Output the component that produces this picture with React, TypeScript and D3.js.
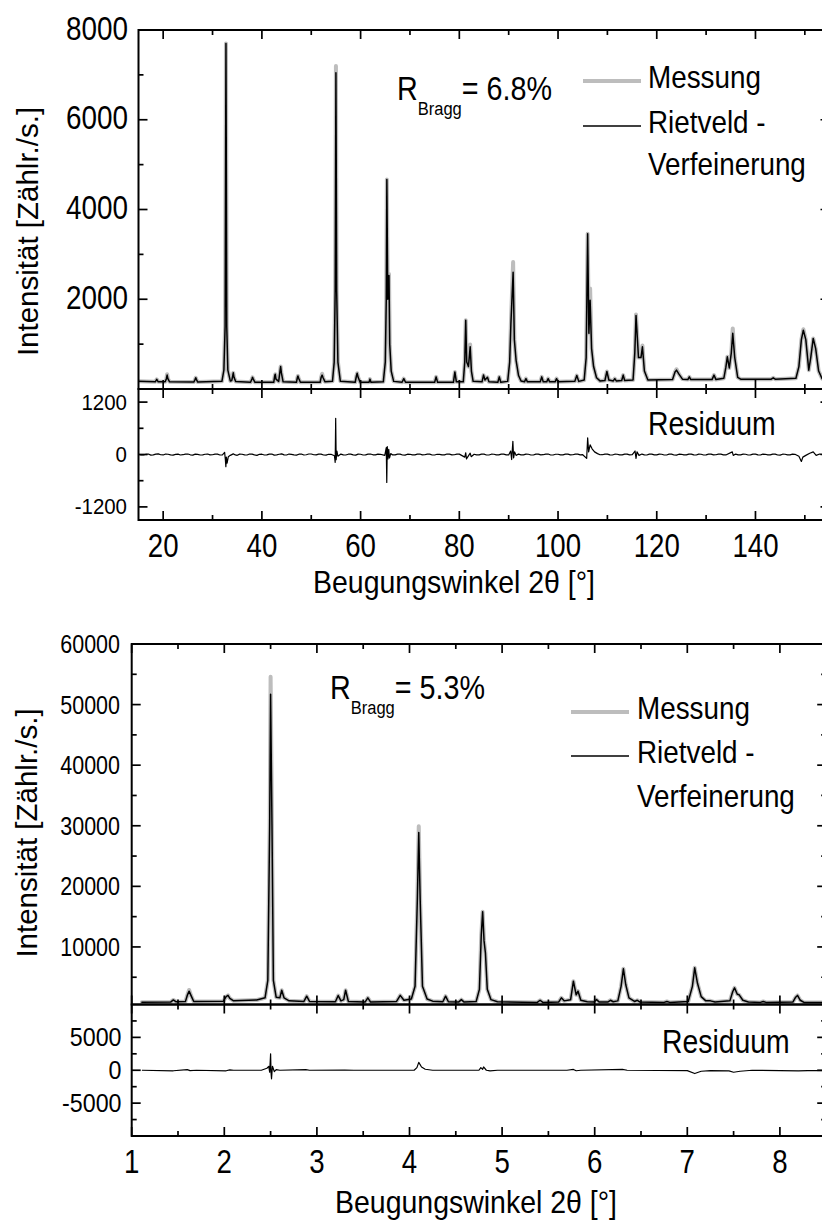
import React from 'react';
import * as d3 from 'd3';

const W = 822;
const H = 1222;
const FONT = '"Liberation Sans", Arial, Helvetica, sans-serif';
const OBS_GREY = '#bdbdbd';

// ---------- upper pattern: 2θ [°], intensity [counts/s] ----------
const topCalc: [number, number][] = [
  [15, 170], [18.4, 160], [18.7, 215], [19.0, 160],
  [20.4, 160], [20.65, 230], [20.8, 310], [20.95, 230], [21.3, 160],
  [26.2, 155], [26.45, 210], [26.6, 250], [26.75, 210], [27.0, 155],
  [31.9, 170], [32.3, 420], [32.55, 1400], [32.72, 7700], [32.88, 1400], [33.1, 420], [33.6, 180],
  [33.9, 190], [34.1, 300], [34.2, 360], [34.35, 260], [34.7, 165],
  [37.7, 150], [38.0, 230], [38.1, 260], [38.25, 220], [38.6, 150],
  [42.4, 150], [42.6, 290], [42.7, 330], [42.85, 220], [43.4, 170], [43.65, 380], [43.8, 500], [43.95, 360], [44.3, 160],
  [47.0, 150], [47.2, 260], [47.3, 290], [47.45, 240], [47.8, 150],
  [51.8, 150], [52.0, 260], [52.2, 310], [52.4, 250], [52.8, 160],
  [54.3, 170], [54.65, 600], [54.85, 2200], [55.0, 7050], [55.15, 2200], [55.4, 600], [55.9, 170],
  [58.9, 150], [59.15, 290], [59.3, 350], [59.5, 260], [59.9, 150],
  [61.7, 150], [61.9, 220], [62.1, 150],
  [64.6, 160], [65.0, 600], [65.2, 2000], [65.32, 4670], [65.5, 2000], [65.62, 2100], [65.75, 2530], [65.9, 1000], [66.2, 400], [66.7, 170],
  [68.4, 150], [68.75, 230], [69.1, 150],
  [75.0, 150], [75.3, 270], [75.6, 150],
  [78.8, 150], [79.1, 380], [79.4, 160],
  [80.8, 160], [81.1, 600], [81.3, 1530], [81.5, 600], [81.85, 500], [82.2, 940], [82.45, 400], [82.8, 170],
  [84.6, 160], [84.9, 310], [85.2, 200], [85.7, 260], [86.0, 160],
  [87.8, 150], [88.1, 270], [88.4, 150],
  [89.8, 170], [90.2, 600], [90.45, 1460], [90.9, 2600], [91.15, 1100], [91.5, 640], [92.0, 300], [92.5, 180],
  [93.2, 160], [93.5, 230], [93.8, 160],
  [96.4, 160], [96.7, 270], [97.0, 160], [97.7, 160], [98.0, 230], [98.3, 160], [99.4, 160], [99.7, 230], [100.0, 160],
  [103.4, 170], [103.8, 300], [104.2, 170],
  [105.3, 200], [105.7, 700], [106.0, 3460], [106.25, 1240], [106.5, 1980], [106.8, 900], [107.2, 500], [107.8, 250], [108.5, 180],
  [109.5, 190], [109.9, 390], [110.3, 200], [111.2, 180], [111.5, 230], [111.8, 180], [112.9, 190], [113.2, 310], [113.5, 190],
  [115.2, 200], [115.55, 800], [115.8, 1640], [116.3, 700], [116.8, 700], [117.1, 940], [117.5, 400], [118.2, 200],
  [123.2, 210], [123.7, 380], [124.0, 420], [124.5, 330], [125.2, 220], [126.3, 210], [126.6, 270], [126.9, 210],
  [131.2, 210], [131.6, 310], [132.0, 210],
  [133.6, 240], [134.0, 480], [134.3, 718], [134.7, 470], [135.1, 800], [135.4, 1240], [135.8, 700], [136.4, 260], [137.0, 220],
  [143.2, 220], [143.6, 250], [144.0, 220],
  [148.2, 240], [148.8, 500], [149.3, 1100], [149.7, 1310], [150.2, 1100], [150.8, 420], [151.2, 700], [151.7, 1126], [152.2, 900], [152.8, 400], [153.5, 230], [155, 210],
];

// measured maxima that stand above the refined profile
const topObsPeaks: [number, number][] = [
  [20.8, 330], [52.2, 340], [55.0, 7200], [65.75, 2560], [82.2, 990], [90.9, 2830],
  [106.5, 2240], [115.8, 1660], [117.1, 970], [124.0, 440], [135.4, 1350], [149.7, 1330],
];

// difference curve (measured − refined)
const topDiff: [number, number][] = [
  [15, 5], [15.5, -8], [16, -12], [16.5, 6], [17, 10], [17.5, -14], [18, -8], [18.5, 9], [19, 14], [19.5, -6],
  [20, -10], [20.5, 12], [21, 6], [21.5, -9], [22, -15], [22.5, 4], [23, 8], [23.5, -11], [24, -5], [24.5, 10],
  [25, 12], [25.5, -7], [26, -14], [26.5, 9], [27, 4], [27.5, -12], [28, -9], [28.5, 6], [29, 11], [29.5, -10],
  [30, -6], [30.5, 9], [31, 8], [31.5, -12], [32.0, -10], [32.45, 50],
  [32.6, -120], [32.7, -280], [32.8, -60], [32.95, -200], [33.2, -50], [33.6, -20], [34.2, 15], [34.6, -10],
  [35, -18], [35.5, 8], [36, 6], [36.5, -10], [37, -12], [37.5, 12], [38, 9], [38.5, -8], [39, -20], [39.5, 5],
  [40, 7], [40.5, -12], [41, -10], [41.5, 9], [42, 12], [42.5, -14], [43, -8], [43.5, 6], [44, 15], [44.5, -9],
  [45, -12], [45.5, 10], [46, 4], [46.5, -8], [47, -15], [47.5, 7], [48, 10], [48.5, -12], [49, -6], [49.5, 11],
  [50, 12], [50.5, -6], [51, -10], [51.5, 8], [52, 8], [52.5, -12], [53, -14], [53.5, 5], [54, 6],
  [54.7, -30], [54.85, -180], [54.95, 830], [55.05, -120], [55.2, 80], [55.4, -40], [56, 10], [56.5, -9], [57, -12],
  [57.5, 7], [58, 8], [58.5, -10], [59, -15], [59.5, 9], [60, 6], [60.5, -11], [61, -10], [61.5, 8], [62, 12],
  [62.5, -7], [63, -8], [63.5, 10], [64, 5], [64.9, -20], [65.2, 160],
  [65.3, -640], [65.4, 180], [65.55, -100], [65.7, 120], [65.85, -80], [66.1, 20], [66.5, -9], [67, -10], [67.5, 8],
  [68, 8], [68.5, -12], [69, -14], [69.5, 7], [70, 5], [70.5, -10], [71, -10], [71.5, 9], [72, 12], [72.5, -8],
  [73, -6], [73.5, 10], [74, 8], [74.5, -12], [75, -12], [75.5, 6], [76, 4], [76.5, -9], [77, -10], [77.5, 11],
  [78, 10], [78.5, -7], [79, -6], [79.5, 9], [80, 8], [81.1, -60], [81.3, 40], [81.45, -100], [82.2, 30],
  [82.4, -50], [83, 5], [83.5, -9], [84, -10], [84.5, 9], [85, 8], [85.5, -12], [86, -12], [86.5, 7], [87, 6],
  [87.5, -10], [88, -8], [88.5, 10], [89, 10], [89.5, -8], [90, -10], [90.4, 80], [90.6, -115], [90.85, 300],
  [91.0, -80], [91.2, 60], [91.5, -20], [92, 10], [92.5, -8], [93, -10], [93.5, 9], [94, 6], [94.5, -11],
  [95, -12], [95.5, 8], [96, 8], [96.5, -9], [97, -5], [97.5, 10], [98, 10], [98.5, -12], [99, -12], [99.5, 6],
  [100, 6], [100.5, -10], [101, -8], [101.5, 9], [102, 10], [102.5, -9], [103, -6], [103.5, 8], [104, 8],
  [104.5, -10], [105, -5], [105.8, -90],
  [106.0, 380], [106.2, 60], [106.5, 220], [106.9, 130], [107.4, 60], [108, 20], [108.5, -6], [109, -5],
  [109.5, 9], [110, 10], [110.5, -10], [111, -12], [111.5, 7], [112, 6], [112.5, -10], [113, -8], [113.5, 9],
  [114, 10], [114.5, -8], [115, -6], [115.6, 80], [115.8, -90], [116.0, 60],
  [116.4, -20], [117, 10], [117.5, -9], [118, -12], [118.5, 9], [119, 8], [119.5, -10], [120, -10], [120.5, 9],
  [121, 6], [121.5, -12], [122, -12], [122.5, 8], [123, 10], [123.5, -11], [124, -15], [124.5, 7],
  [125, 5], [125.5, -10], [126, -10], [126.5, 9], [127, 8], [127.5, -9], [128, -12], [128.5, 8], [129, 6],
  [129.5, -11], [130, -8], [130.5, 9], [131, 10], [131.5, -8], [132, -6], [132.5, 10], [133, 8], [133.5, -9],
  [134, -10], [135.3, 60], [135.5, -20], [136, 10], [136.5, -9], [137, -8], [137.5, 9], [138, 6], [138.5, -11],
  [139, -10], [139.5, 8], [140, 8], [140.5, -10], [141, -12], [141.5, 9], [142, 5], [142.5, -10], [143, -10],
  [143.5, 8], [144, 8], [144.5, -12], [145, -14], [145.5, 7], [146, 6], [146.5, -10], [147, -10], [147.5, 8],
  [148, 4], [148.8, -40], [149.3, -160],
  [149.6, -60], [150.2, -20], [151, 30], [151.7, 60], [152.3, -20], [153, 10], [154, -5], [155, 0],
];

// ---------- lower pattern ----------
const botCalc: [number, number][] = [
  [1.11, 880], [1.42, 900], [1.45, 1250], [1.48, 950], [1.58, 980], [1.6, 2000], [1.62, 2700], [1.64, 2000], [1.67, 1000],
  [1.99, 1050], [2.02, 1800], [2.04, 2000], [2.06, 1500], [2.1, 1100],
  [2.35, 1250], [2.44, 1600], [2.47, 4500], [2.49, 30000], [2.5, 51700], [2.515, 30000], [2.53, 4500], [2.56, 1700],
  [2.6, 1600], [2.62, 2850], [2.645, 1600], [2.7, 1100],
  [2.86, 1000], [2.89, 1870], [2.92, 1000],
  [3.2, 950], [3.23, 1980], [3.26, 1100], [3.29, 1300], [3.31, 2860], [3.34, 1000],
  [3.52, 900], [3.55, 1600], [3.58, 900],
  [3.86, 1000], [3.9, 2000], [3.94, 1200], [4.02, 1400], [4.06, 3500], [4.085, 18000], [4.1, 28900], [4.115, 18000],
  [4.14, 3500], [4.19, 1400], [4.25, 1050],
  [4.36, 950], [4.39, 1870], [4.42, 950], [4.53, 900], [4.56, 1300], [4.59, 900],
  [4.72, 1000], [4.755, 3000], [4.775, 12000], [4.79, 15800], [4.805, 11000], [4.82, 9000], [4.84, 3000], [4.88, 1300], [4.95, 950],
  [5.38, 850], [5.41, 1200], [5.44, 850], [5.61, 900], [5.64, 1600], [5.67, 1100], [5.74, 1300], [5.77, 4350],
  [5.8, 2100], [5.82, 2700], [5.85, 1200], [5.92, 950],
  [5.99, 900], [6.02, 1300], [6.05, 900], [6.14, 900], [6.17, 1200], [6.2, 950],
  [6.25, 1100], [6.285, 3500], [6.31, 6400], [6.335, 3800], [6.37, 1600], [6.43, 1000], [6.46, 1200], [6.49, 900],
  [6.75, 850], [6.78, 1000], [6.81, 850],
  [7.01, 1000], [7.055, 3500], [7.08, 6560], [7.11, 4000], [7.15, 1800], [7.2, 1100], [7.25, 1100], [7.3, 900],
  [7.46, 1100], [7.49, 2600], [7.51, 3250], [7.54, 2200], [7.56, 2100], [7.6, 1200], [7.66, 900],
  [7.79, 850], [7.82, 1000], [7.85, 850],
  [8.14, 900], [8.17, 1700], [8.19, 2000], [8.22, 1200], [8.26, 850], [8.5, 800],
];

const botObsPeaks: [number, number][] = [
  [1.62, 2900], [2.5, 54600], [4.1, 29900],
];

const botDiff: [number, number][] = [
  [1.11, 0], [1.45, -80], [1.6, 100], [1.63, -60], [1.7, 0], [2.02, -80], [2.06, 50], [2.1, 0], [2.4, 0],
  [2.46, 300], [2.48, 600], [2.49, -300], [2.5, 2500], [2.505, -400], [2.51, -1300], [2.52, 600],
  [2.54, -200], [2.56, 100], [2.6, 0], [2.88, 100], [2.92, 0], [3.3, 40], [3.4, 0], [4.05, 0],
  [4.08, 400], [4.1, 1200], [4.13, 500], [4.17, 150], [4.25, 0], [4.75, 0], [4.77, 400], [4.79, 150],
  [4.8, 500], [4.83, 0], [4.87, -100], [4.95, 0], [5.7, 0], [5.77, 120], [5.8, -80], [5.85, 0],
  [6.3, 120], [6.35, 0], [7.0, -50], [7.08, -500], [7.15, -150], [7.25, -50], [7.45, -100], [7.5, -300],
  [7.57, -150], [7.7, 0], [8.2, -80], [8.3, -50], [8.5, -50],
];

// ---------- axes ----------
const topXMajor = [20, 40, 60, 80, 100, 120, 140];
const topXMinor = [30, 50, 70, 90, 110, 130, 150];
const topYMajor = [2000, 4000, 6000, 8000];
const topYMinor = [1000, 3000, 5000, 7000];
const topRMajor = [-1200, 0, 1200];
const topRMinor = [-600, 600];

const botXMajor = [1, 2, 3, 4, 5, 6, 7, 8];
const botXMinor = [1.5, 2.5, 3.5, 4.5, 5.5, 6.5, 7.5];
const botYMajor = [10000, 20000, 30000, 40000, 50000, 60000];
const botYMinor = [5000, 15000, 25000, 35000, 45000, 55000];
const botRMajor = [-5000, 0, 5000];
const botRMinor = [-7500, -2500, 2500, 7500];

const legendLabels = ['Messung', 'Rietveld -', 'Verfeinerung'];

function withObserved(calc: [number, number][], peaks: [number, number][]): [number, number][] {
  const m = new Map(peaks.map(([a, v]) => [a, v]));
  return calc.map(([a, v]) => [a, m.has(a) ? (m.get(a) as number) : v]);
}

function T(props: {
  x: number; y: number; size: number; sx?: number; anchor?: string; rotate?: boolean; children: React.ReactNode;
}) {
  const { x, y, size, sx = 0.86, anchor = 'start', rotate = false, children } = props;
  const tr = rotate ? `translate(${x},${y}) rotate(-90)` : `translate(${x},${y}) scale(${sx},1)`;
  return (
    <text transform={tr} fontSize={size} textAnchor={anchor as any} fontFamily={FONT} fill="#000">
      {children}
    </text>
  );
}

type PanelCfg = {
  id: string;
  xDomain: [number, number]; xRange: [number, number];
  mainDomain: [number, number]; mainRange: [number, number];
  resDomain: [number, number]; resRange: [number, number];
  calc: [number, number][]; obs: [number, number][]; diff: [number, number][];
  xMajor: number[]; xMinor: number[]; yMajor: number[]; yMinor: number[]; rMajor: number[]; rMinor: number[];
  yLabelX: number; yLabelSize: number; yLabelDy: number; yLabelSx: number;
  rLabelX: number; rLabelSize: number; rLabelDy: number;
  xLabelY: number;
  titleX: number; titleY: number;
  yTitleX: number; yTitleY: number;
  rBragg: { x: number; y: number; value: string };
  legend: { lineX0: number; lineX1: number; y0: number; y1: number; textX: number; base: number[] };
  resid: { x: number; y: number };
};

function Panel({ c }: { c: PanelCfg }) {
  const x = d3.scaleLinear().domain(c.xDomain).range(c.xRange);
  const y = d3.scaleLinear().domain(c.mainDomain).range(c.mainRange);
  const r = d3.scaleLinear().domain(c.resDomain).range(c.resRange);
  const line = (ys: d3.ScaleLinear<number, number>) =>
    d3.line<[number, number]>().x((d) => x(d[0])).y((d) => ys(d[1]));

  const [xl, xr] = c.xRange;
  const mainTop = c.mainRange[1];
  const sep = c.mainRange[0];
  const resBottom = c.resRange[0];
  const MAJ = 9;
  const MIN = 5;

  const xTicks = (vals: number[], len: number) =>
    vals.map((v) => {
      const px = x(v);
      return (
        <g key={`x${len}-${v}`}>
          <line x1={px} x2={px} y1={mainTop} y2={mainTop + len} />
          <line x1={px} x2={px} y1={sep - len} y2={sep + len} />
          <line x1={px} x2={px} y1={resBottom} y2={resBottom - len} />
        </g>
      );
    });
  const yTicks = (vals: number[], s: d3.ScaleLinear<number, number>, len: number, k: string) =>
    vals.map((v) => {
      const py = s(v);
      return (
        <g key={`${k}${len}-${v}`}>
          <line x1={xl} x2={xl + len} y1={py} y2={py} />
          <line x1={xr} x2={xr - len} y1={py} y2={py} />
        </g>
      );
    });

  return (
    <g>
      <defs>
        <clipPath id={`${c.id}-main`}>
          <rect x={xl} y={mainTop} width={xr - xl} height={sep - mainTop} />
        </clipPath>
        <clipPath id={`${c.id}-res`}>
          <rect x={xl} y={sep} width={xr - xl} height={resBottom - sep} />
        </clipPath>
      </defs>

      <g clipPath={`url(#${c.id}-main)`} fill="none" strokeLinejoin="round" strokeLinecap="round">
        <path d={line(y)(c.obs) || ''} stroke={OBS_GREY} strokeWidth={4} />
        <path d={line(y)(c.calc) || ''} stroke="#000" strokeWidth={1.5} />
      </g>
      <g clipPath={`url(#${c.id}-res)`} fill="none">
        <path d={line(r)(c.diff) || ''} stroke="#000" strokeWidth={1.2} strokeLinejoin="round" />
      </g>

      <g fill="none" stroke="#000" strokeWidth={2}>
        <rect x={xl} y={mainTop} width={xr - xl} height={sep - mainTop} />
        <rect x={xl} y={sep} width={xr - xl} height={resBottom - sep} />
      </g>
      <g stroke="#000" strokeWidth={1.7}>
        {xTicks(c.xMajor, MAJ)}
        {xTicks(c.xMinor, MIN)}
        {yTicks(c.yMajor, y, MAJ, 'm')}
        {yTicks(c.yMinor, y, MIN, 'm')}
        {yTicks(c.rMajor, r, MAJ, 'r')}
        {yTicks(c.rMinor, r, MIN, 'r')}
      </g>

      {c.yMajor.map((v) => (
        <T key={`yl${v}`} x={c.yLabelX} y={y(v) + c.yLabelDy} size={c.yLabelSize} sx={c.yLabelSx} anchor="end">
          {String(v)}
        </T>
      ))}
      {c.rMajor.map((v) => (
        <T key={`rl${v}`} x={c.rLabelX} y={r(v) + c.rLabelDy} size={c.rLabelSize} sx={0.93} anchor="end">
          {String(v)}
        </T>
      ))}
      {c.xMajor.map((v) => (
        <T key={`xl${v}`} x={x(v)} y={c.xLabelY} size={32.5} sx={0.85} anchor="middle">
          {String(v)}
        </T>
      ))}

      <T x={c.titleX} y={c.titleY} size={32} sx={0.89} anchor="middle">
        {'Beugungswinkel 2θ [°]'}
      </T>
      <T x={c.yTitleX} y={c.yTitleY} size={29.5} anchor="middle" rotate>
        {'Intensität [Zählr./s.]'}
      </T>

      <text transform={`translate(${c.rBragg.x},${c.rBragg.y}) scale(0.87,1)`} fontFamily={FONT} fontSize={33}>
        <tspan>R</tspan>
        <tspan fontSize={19} dy={14.5}>Bragg</tspan>
        <tspan dy={-14.5}>{`= ${c.rBragg.value}`}</tspan>
      </text>

      <line x1={c.legend.lineX0} x2={c.legend.lineX1} y1={c.legend.y0} y2={c.legend.y0} stroke={OBS_GREY} strokeWidth={4} />
      <line x1={c.legend.lineX0} x2={c.legend.lineX1} y1={c.legend.y1} y2={c.legend.y1} stroke="#000" strokeWidth={1.5} />
      {legendLabels.map((t, i) => (
        <T key={t} x={c.legend.textX} y={c.legend.base[i]} size={32} sx={0.87}>
          {t}
        </T>
      ))}

      <T x={c.resid.x} y={c.resid.y} size={33} sx={0.86}>
        Residuum
      </T>
    </g>
  );
}

const topPanel: PanelCfg = {
  id: 'p1',
  xDomain: [15, 155], xRange: [138.5, 829.5],
  mainDomain: [0, 8000], mainRange: [389, 30],
  resDomain: [-1500, 1500], resRange: [520, 389],
  calc: topCalc, obs: withObserved(topCalc, topObsPeaks), diff: topDiff,
  xMajor: topXMajor, xMinor: topXMinor, yMajor: topYMajor, yMinor: topYMinor, rMajor: topRMajor, rMinor: topRMinor,
  yLabelX: 128, yLabelSize: 34, yLabelDy: 9.5, yLabelSx: 0.82,
  rLabelX: 127, rLabelSize: 22, rLabelDy: 7.5,
  xLabelY: 556.5,
  titleX: 454, titleY: 593,
  yTitleX: 37.5, yTitleY: 231.5,
  rBragg: { x: 397, y: 100, value: '6.8%' },
  legend: { lineX0: 583, lineX1: 641, y0: 81, y1: 126, textX: 648, base: [88, 133, 175] },
  resid: { x: 648, y: 435 },
};

const botPanel: PanelCfg = {
  id: 'p2',
  xDomain: [1, 8.5], xRange: [131.7, 826.2],
  mainDomain: [500, 60000], mainRange: [1004.5, 644],
  resDomain: [-10000, 10000], resRange: [1136, 1004.5],
  calc: botCalc, obs: withObserved(botCalc, botObsPeaks), diff: botDiff,
  xMajor: botXMajor, xMinor: botXMinor, yMajor: botYMajor, yMinor: botYMinor, rMajor: botRMajor, rMinor: botRMinor,
  yLabelX: 120, yLabelSize: 25, yLabelDy: 9, yLabelSx: 0.86,
  rLabelX: 121.5, rLabelSize: 25, rLabelDy: 8.5,
  xLabelY: 1172.5,
  titleX: 476, titleY: 1213,
  yTitleX: 36.5, yTitleY: 833,
  rBragg: { x: 330, y: 699.3, value: '5.3%' },
  legend: { lineX0: 571, lineX1: 629, y0: 712, y1: 756, textX: 637, base: [719, 763, 807] },
  resid: { x: 662, y: 1053 },
};

export default function App() {
  return (
    <svg
      width={W}
      height={H}
      viewBox={`0 0 ${W} ${H}`}
      style={{ position: 'absolute', left: 0, top: 0, background: '#fff', overflow: 'hidden' }}
    >
      <rect width={W} height={H} fill="#fff" />
      <Panel c={topPanel} />
      <Panel c={botPanel} />
    </svg>
  );
}
